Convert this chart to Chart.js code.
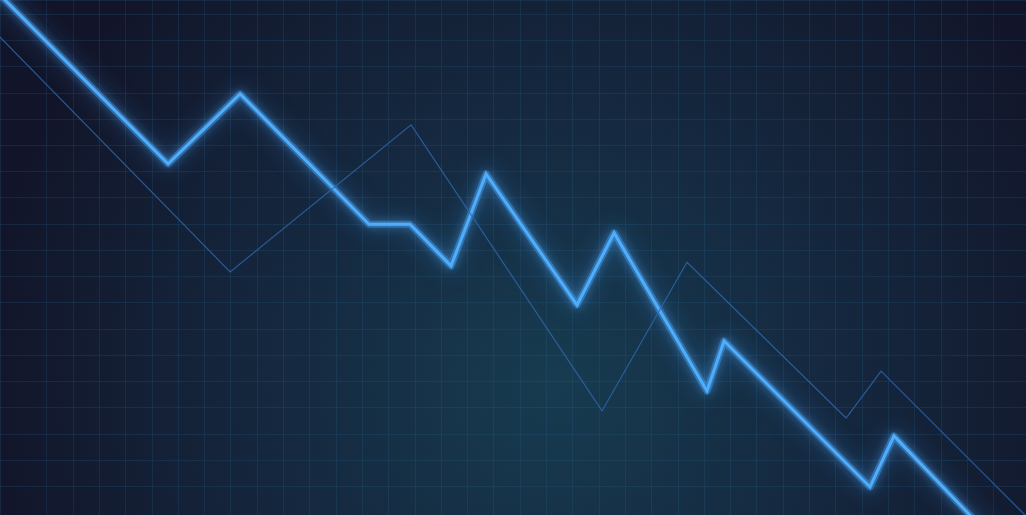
<!DOCTYPE html>
<html>
<head>
<meta charset="utf-8">
<script src="https://cdn.jsdelivr.net/npm/chart.js@4.4.1/dist/chart.umd.min.js"></script>
<style>
    html, body {
        margin: 0;
        padding: 0;
        background: #131729;
        overflow: hidden;
    }

    #wrap {
        width: 1026px;
        height: 515px;
    }
</style>
</head>
<body>
<div id="wrap"><canvas id="trend_chart"></canvas></div>
<script>
// values in grid cells
const mainX = [-1.92, 5.61, 8.35, 13.25, 14.81, 16.37, 17.70, 21.16, 22.57, 26.10, 26.75, 32.30, 33.21, 37.62];
const mainY = [20.89, 13.30, 15.97, 11.00, 11.00, 9.41, 12.92, 7.92, 10.67, 4.64, 6.55, 0.98, 2.93, -1.69];

const ghostX = [-1.54, 7.97, 14.85, 22.11, 25.34, 31.39, 32.72, 39.14];
const ghostY = [18.91, 9.18, 14.79, 3.88, 9.55, 3.61, 5.40, -1.04];

function toPoints(xs, ys) {
    return xs.map((x, i) => ({ x: x, y: ys[i] }));
}

const backgroundPlugin = {
    id: "background",
    beforeDraw(chart) {
        const ctx = chart.ctx;
        const w = chart.width;
        const h = chart.height;
        const g = ctx.createRadialGradient(w * 0.54, h * 0.74, 10, w * 0.54, h * 0.74, w * 0.56);
        g.addColorStop(0, "#173b50");
        g.addColorStop(0.45, "#152940");
        g.addColorStop(1, "#121529");
        ctx.save();
        ctx.fillStyle = g;
        ctx.fillRect(0, 0, w, h);
        ctx.restore();
    }
};

const glowPlugin = {
    id: "glow",
    beforeDatasetDraw(chart, args) {
        const ds = chart.data.datasets[args.index];
        if (!ds.glow) {
            return;
        }
        chart.ctx.save();
        chart.ctx.shadowColor = ds.glow;
        chart.ctx.shadowBlur = ds.glowBlur;
    },
    afterDatasetDraw(chart, args) {
        const ds = chart.data.datasets[args.index];
        if (ds.glow) {
            chart.ctx.restore();
        }
    }
};

new Chart(document.getElementById("trend_chart"), {
    type: "line",

    data: {
        datasets: [
            {
                label: "ghost",
                data: toPoints(ghostX, ghostY),
                borderColor: "rgba(45, 105, 175, 0.8)",
                borderWidth: 1.2,
                pointRadius: 0,
                tension: 0
            },
            {
                label: "halo",
                data: toPoints(mainX, mainY),
                borderColor: "rgba(70, 165, 255, 0.4)",
                borderWidth: 7,
                borderJoinStyle: "round",
                pointRadius: 0,
                tension: 0,
                glow: "rgba(70, 165, 255, 1)",
                glowBlur: 24
            },
            {
                label: "main",
                data: toPoints(mainX, mainY),
                borderColor: "#5ab6f6",
                borderWidth: 3,
                pointRadius: 0,
                tension: 0,
                glow: "rgba(80, 175, 255, 0.95)",
                glowBlur: 10
            }
        ]
    },

    options: {
        responsive: true,
        maintainAspectRatio: false,
        animation: false,

        layout: {
            padding: 0,
            autoPadding: false
        },

        scales: {
            x: {
                type: "linear",
                min: -0.78,
                max: 38.23,
                ticks: {
                    display: false,
                    stepSize: 1
                },
                grid: {
                    color: "rgba(40, 100, 140, 0.22)",
                    drawTicks: false
                },
                border: {
                    display: false
                }
            },

            y: {
                type: "linear",
                min: -0.088,
                max: 19.55,
                ticks: {
                    display: false,
                    stepSize: 1
                },
                grid: {
                    color: "rgba(40, 100, 140, 0.22)",
                    drawTicks: false
                },
                border: {
                    display: false
                }
            }
        },

        plugins: {
            legend: {
                display: false
            },
            tooltip: {
                enabled: false
            }
        }
    },

    plugins: [backgroundPlugin, glowPlugin]
});
</script>
</body>
</html>
